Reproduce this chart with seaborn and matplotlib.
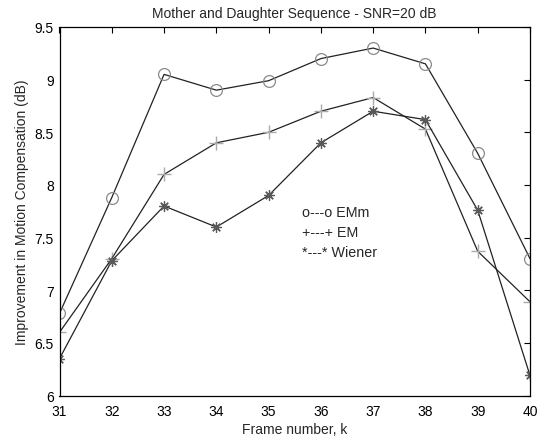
import numpy as np
import pandas as pd
import matplotlib
matplotlib.use("Agg")
import matplotlib.pyplot as plt
import seaborn as sns

frames = [31, 32, 33, 34, 35, 36, 37, 38, 39, 40]
emm = [6.78, 7.88, 9.05, 8.90, 8.99, 9.20, 9.30, 9.15, 8.30, 7.30]
em = [6.60, 7.30, 8.10, 8.40, 8.50, 8.70, 8.83, 8.53, 7.37, 6.89]
wiener = [6.35, 7.28, 7.80, 7.60, 7.90, 8.40, 8.70, 8.62, 7.76, 6.19]
legend_lines = ["o---o EMm", "+---+ EM", "*---* Wiener"]

sns.set_style("white")
plt.rcParams['font.family'] = ['Liberation Sans', 'DejaVu Sans']

fig = plt.figure(figsize=(5.53, 4.39), dpi=100)
ax = fig.add_axes([59.5/553, 1 - 396.5/439, (530-59.5)/553, (396.5-28)/439])

df = pd.DataFrame({"k": frames * 3,
                   "v": emm + em + wiener,
                   "s": ["EMm"] * 10 + ["EM"] * 10 + ["Wiener"] * 10})

styles = {"EMm": dict(marker="o", mc="#8a8a8a", ms=8.5, mfc="none", mew=0.9),
          "EM": dict(marker="+", mc="#aaaaaa", ms=10, mfc="#aaaaaa", mew=1.0),
          "Wiener": dict(marker=(8, 2, 0), mc="#5a5a5a", ms=7.5, mfc="#5a5a5a", mew=0.9)}
for name, st in styles.items():
    sub = df[df.s == name]
    sns.lineplot(data=sub, x="k", y="v", ax=ax, color="#222222", linewidth=0.9,
                 legend=False)
    ax.plot(sub.k, sub.v, linestyle="none", marker=st["marker"], markersize=st["ms"],
            markeredgecolor=st["mc"], markerfacecolor=st["mfc"], markeredgewidth=st["mew"])

ax.set_xlim(31, 40)
ax.set_ylim(6, 9.5)
ax.set_xticks(frames)
ax.set_yticks(np.arange(6, 9.51, 0.5))
ax.set_yticklabels(["6", "6.5", "7", "7.5", "8", "8.5", "9", "9.5"])
ax.tick_params(direction="in", top=True, right=True, length=4, width=0.8,
               labelsize=10, colors="black")
ax.tick_params(axis="x", pad=6)
ax.tick_params(axis="y", pad=4)
for sp in ax.spines.values():
    sp.set_visible(True)
    sp.set_color("black")
    sp.set_linewidth(0.9)
ax.set_xlabel("Frame number, k", fontsize=10, labelpad=3)
ax.set_ylabel("Improvement in Motion Compensation (dB)", fontsize=10, labelpad=4)
ax.set_title("Mother and Daughter Sequence - SNR=20 dB", fontsize=10, pad=7)

for i, t in enumerate(legend_lines):
    ax.text(35.64, 7.74 - i * 0.19, t, fontsize=10.3, va="center", ha="left")

fig.savefig("out.png", dpi=100)
